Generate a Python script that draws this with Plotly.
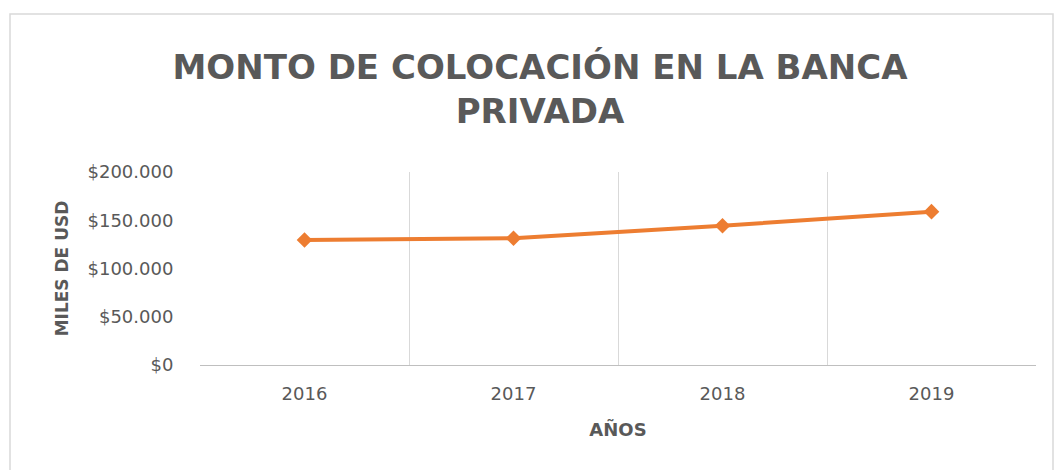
import plotly.graph_objects as go

years = ["2016", "2017", "2018", "2019"]
montos = [129500, 131300, 144300, 158900]
ytick_vals = [0, 50000, 100000, 150000, 200000]
ytick_text = ["$0", "$50.000", "$100.000", "$150.000", "$200.000"]

W, H = 1054, 470
L, R, T, B = 200, 18, 172, 105
pw, ph = W - L - R, H - T - B

fig = go.Figure()
fig.add_trace(go.Scatter(
    x=years, y=montos, mode="lines+markers",
    line=dict(color="#ED7D31", width=4),
    marker=dict(symbol="diamond", size=12, color="#ED7D31"),
    showlegend=False,
))

fig.update_layout(
    width=W, height=H,
    margin=dict(l=L, r=R, t=T, b=B),
    paper_bgcolor="white", plot_bgcolor="white",
    title=dict(
        text="MONTO DE COLOCACIÓN EN LA BANCA<br>PRIVADA",
        x=540 / W, xref="container", xanchor="center",
        y=1 - 79 / H, yref="container", yanchor="top",
        font=dict(family="DejaVu Sans", size=34, color="#595959", weight="bold"),
    ),
    font=dict(family="DejaVu Sans", color="#595959"),
    xaxis=dict(
        type="category", tickson="boundaries", range=[-0.5, 3.5],
        showgrid=True, gridcolor="#d9d9d9", gridwidth=1,
        showline=True, linecolor="#bfbfbf", linewidth=1,
        ticks="", ticklabelstandoff=12,
        tickfont=dict(family="DejaVu Sans", size=18, color="#595959"),
        title=dict(text="AÑOS", standoff=20,
                   font=dict(family="DejaVu Sans", size=18, color="#595959", weight="bold")),
        zeroline=False,
    ),
    yaxis=dict(
        range=[0, 200000], tickvals=ytick_vals, ticktext=ytick_text,
        showgrid=False, zeroline=False, showline=False,
        ticks="outside", ticklen=22, tickcolor="rgba(0,0,0,0)",
        tickfont=dict(family="DejaVu Sans", size=18, color="#595959"),
        title=dict(text="MILES DE USD", standoff=14,
                   font=dict(family="DejaVu Sans", size=17, color="#595959", weight="bold")),
    ),
)

# outer chart border
x0 = (10 - L) / pw
x1 = (W - 1 - L) / pw
y0 = (H - B - (H + 5)) / ph
y1 = (H - B - 14) / ph
fig.add_shape(type="rect", xref="paper", yref="paper", x0=x0, x1=x1, y0=y0, y1=y1,
              line=dict(color="#d9d9d9", width=1.5), fillcolor="rgba(0,0,0,0)", layer="below")

fig.write_html("out.html")
